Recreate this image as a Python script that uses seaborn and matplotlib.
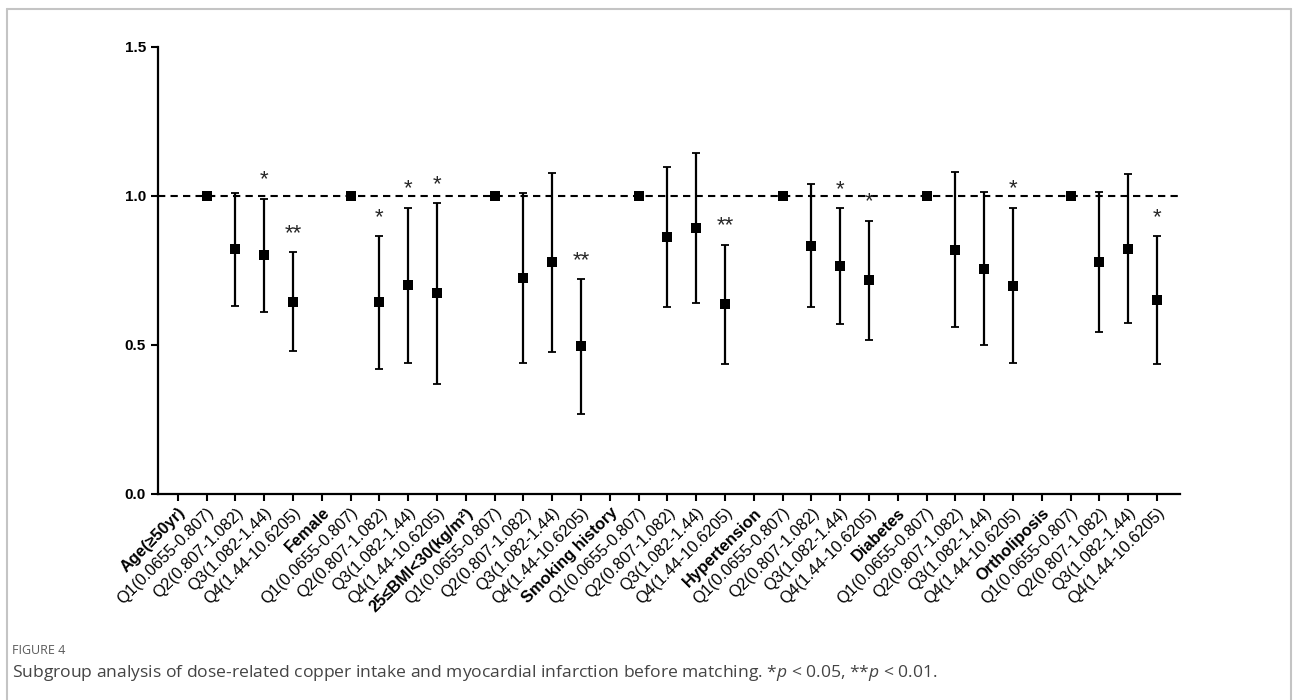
import numpy as np
import matplotlib
matplotlib.use("Agg")
import matplotlib.pyplot as plt
from matplotlib.lines import Line2D
import seaborn as sns

# Subgroup headers and copper intake quartiles
groups = ["Age(≥50yr)", "Female", "25≤BMI<30(kg/m²)", "Smoking history",
          "Hypertension", "Diabetes", "Ortholiposis"]
quartiles = ["Q1(0.0655-0.807)", "Q2(0.807-1.082)", "Q3(1.082-1.44)", "Q4(1.44-10.6205)"]

# Odds ratios (Q1 is the reference, no CI)
or_est = [
    [1.0, 0.82, 0.80, 0.645],
    [1.0, 0.645, 0.70, 0.675],
    [1.0, 0.724, 0.778, 0.495],
    [1.0, 0.863, 0.892, 0.636],
    [1.0, 0.833, 0.764, 0.716],
    [1.0, 0.819, 0.756, 0.699],
    [1.0, 0.779, 0.823, 0.650],
]
ci_low = [
    [np.nan, 0.63, 0.61, 0.48],
    [np.nan, 0.42, 0.44, 0.37],
    [np.nan, 0.438, 0.475, 0.267],
    [np.nan, 0.628, 0.642, 0.436],
    [np.nan, 0.628, 0.569, 0.515],
    [np.nan, 0.559, 0.501, 0.439],
    [np.nan, 0.544, 0.572, 0.435],
]
ci_high = [
    [np.nan, 1.01, 0.99, 0.81],
    [np.nan, 0.865, 0.96, 0.975],
    [np.nan, 1.01, 1.078, 0.72],
    [np.nan, 1.098, 1.143, 0.836],
    [np.nan, 1.039, 0.958, 0.917],
    [np.nan, 1.081, 1.012, 0.960],
    [np.nan, 1.014, 1.074, 0.864],
]
stars = [
    ["", "", "*", "**"],
    ["", "*", "*", "*"],
    ["", "", "", "**"],
    ["", "", "", "**"],
    ["", "", "*", "*"],
    ["", "", "", "*"],
    ["", "", "", "*"],
]

sns.set_style("ticks")
plt.rcParams["font.family"] = ["Liberation Sans", "DejaVu Sans"]
plt.rcParams["mathtext.fontset"] = "custom"
plt.rcParams["mathtext.rm"] = "Open Sans"
plt.rcParams["mathtext.it"] = "Open Sans:italic"

# build flat category list: header followed by its four quartiles
labels, pos, est, lo, hi, sig = [], [], [], [], [], []
bold_idx = []
for g, name in enumerate(groups):
    bold_idx.append(len(labels))
    labels.append(name)
    for q, qname in enumerate(quartiles):
        pos.append(len(labels))
        labels.append(qname)
        est.append(or_est[g][q])
        lo.append(ci_low[g][q])
        hi.append(ci_high[g][q])
        sig.append(stars[g][q])
pos = np.array(pos)
est = np.array(est)
lo = np.array(lo)
hi = np.array(hi)

fig = plt.figure(figsize=(12.93, 7.0), dpi=100)
ax = fig.add_axes([0.122, 0.2943, 0.7906, 0.639])

ax.axhline(1.0, color="black", lw=1.5, ls=(0, (3.5, 2.5)), zorder=1)

has_ci = ~np.isnan(lo)
ax.errorbar(pos[has_ci], est[has_ci],
            yerr=[est[has_ci] - lo[has_ci], hi[has_ci] - est[has_ci]],
            fmt="none", ecolor="black", elinewidth=1.6, capsize=3.2,
            capthick=1.3, zorder=2)
sns.scatterplot(x=pos, y=est, marker="s", s=58, color="black",
                edgecolor="black", linewidth=0, ax=ax, zorder=3, legend=False)

for x, h, s in zip(pos, hi, sig):
    if s:
        ax.text(x, h + 0.028, s, ha="center", va="bottom", fontsize=16)

ax.set_xlim(-0.7, 34.8)
ax.set_ylim(0, 1.5)
ax.set_yticks([0.0, 0.5, 1.0, 1.5])
ax.set_yticklabels(["0.0", "0.5", "1.0", "1.5"], fontweight="bold", fontsize=11)
ax.set_xticks(np.arange(len(labels)))
ax.set_xticklabels(labels, rotation=45, ha="right", rotation_mode="anchor",
                   fontsize=11.8)
for i, t in enumerate(ax.get_xticklabels()):
    if i in bold_idx:
        t.set_fontweight("bold")
ax.tick_params(axis="both", direction="out", length=5, width=1.5, colors="black")
ax.tick_params(axis="x", pad=3)
for side in ["left", "bottom"]:
    ax.spines[side].set_linewidth(1.6)
    ax.spines[side].set_color("black")
sns.despine(ax=ax)
ax.set_xlabel("")
ax.set_ylabel("")

# page frame
frame_kw = dict(color="#c4c4c4", lw=1.5, transform=fig.transFigure)
fig.add_artist(Line2D([0.0055, 0.0055], [0.0, 0.987], **frame_kw))
fig.add_artist(Line2D([0.0055, 0.9985], [0.987, 0.987], **frame_kw))
fig.add_artist(Line2D([0.9985, 0.9985], [0.0, 0.987], **frame_kw))

fig.text(0.0093, 0.071, "FIGURE 4", fontsize=9, color="#5a5a5a",
         family="Open Sans", va="center")
fig.text(0.0093, 0.039,
         "Subgroup analysis of dose-related copper intake and myocardial infarction "
         "before matching. *$p$ < 0.05, **$p$ < 0.01.",
         fontsize=12.6, color="#444444", family="Open Sans", va="center")

fig.savefig("out.png", dpi=100)
